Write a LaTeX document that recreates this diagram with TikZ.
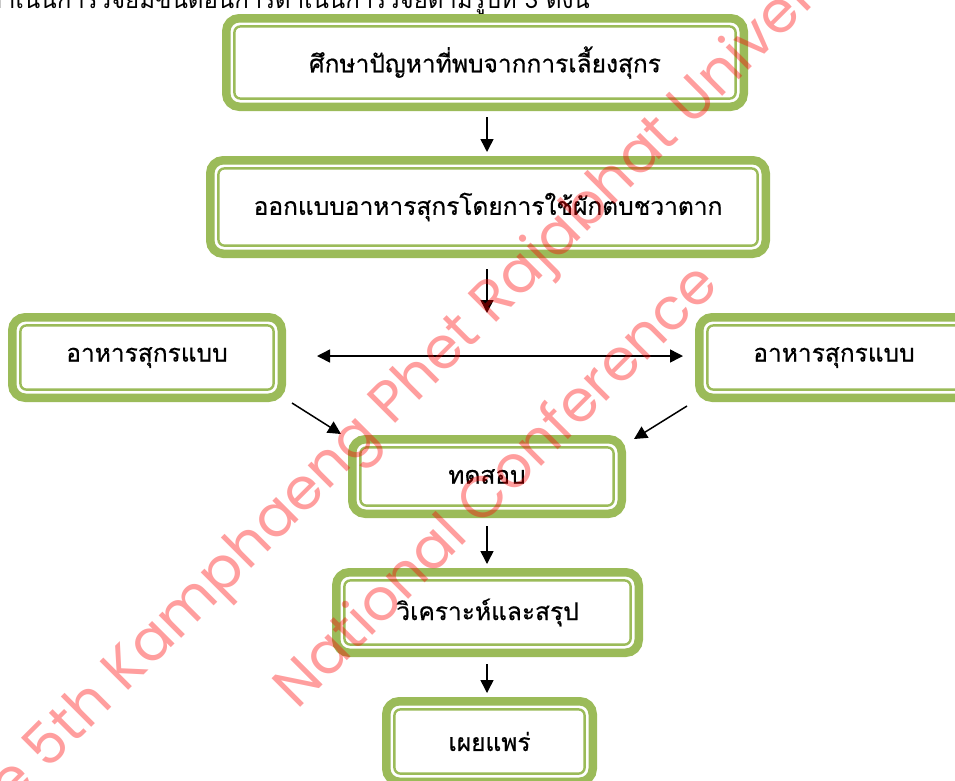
\documentclass[tikz,border=0pt]{standalone}
\usepackage{fontspec}
\newfontfamily\thaifont[Script=Thai,FakeBold=0.6]{Loma}
\newfontfamily\thaiplain[Script=Thai]{Loma}
\newfontfamily\wmfont{Poppins}
\usetikzlibrary{arrows.meta}
\definecolor{boxgreen}{HTML}{9BBB59}
\tikzset{
  gbox/.style={draw=boxgreen, line width=8.5pt, rounded corners=13pt, fill=white,
    inner sep=0pt, font=\thaifont\fontsize{24.5}{28}\selectfont, text=black},
  ginner/.style={draw=boxgreen, line width=2.4pt, rounded corners=6pt},
  arr/.style={-{Triangle[length=13pt,width=13pt]}, line width=1.5pt, black},
  darr/.style={{Triangle[length=13pt,width=13pt]}-{Triangle[length=13pt,width=13pt]}, line width=1.5pt, black},
  wm/.style={font=\wmfont\fontsize{58}{64}\selectfont, text=red, text opacity=0.38, rotate=45, inner sep=0pt}
}
\newcommand\gbox[6]{%
  \node[gbox, minimum width=#4pt-8.5pt, minimum height=#5pt-8.5pt] (#1) at (#2,#3) {#6};
  \draw[ginner] ({#2-#4/2+12.4},{#3-#5/2+12.4}) rectangle ({#2+#4/2-12.4},{#3+#5/2-12.4});
}
\begin{document}
\begin{tikzpicture}[x=1pt,y=-1pt]
\useasboundingbox (0,0) rectangle (955,780);
% clipped heading line
\node[anchor=base east, inner sep=0pt, font=\thaiplain\fontsize{24}{28}\selectfont] (head) at (590,8)
  {ขั้นตอนการดำเนินการวิจัยมีขั้นตอนการดำเนินการวิจัยตามรูปที่ 3 ดังนี้};
% boxes
\gbox{b1}{485}{62.5}{526}{97}{ศึกษาปัญหาที่พบจากการเลี้ยงสุกร}
\gbox{b2}{488}{207}{564}{102}{ออกแบบอาหารสุกรโดยการใช้ผักตบชวาตาก}
\gbox{lb}{147}{357.5}{278}{89}{อาหารสุกรแบบ}
\gbox{rb}{834}{357.5}{278}{89}{อาหารสุกรแบบ}
\gbox{tb}{487}{476.5}{278}{83}{ทดสอบ}
\gbox{ab}{487.5}{612.5}{311}{89}{วิเคราะห์และสรุป}
\gbox{pb}{489.5}{741.5}{215}{89}{เผยแพร่}
% connectors
\coordinate (split) at (487,313);
\draw[arr, shorten <=6pt, shorten >=4pt] (b1.south -| split) -- (b2.north -| split);
\draw[arr, shorten <=11pt] (b2.south -| split) -- (split);
\draw[darr, shorten <=31pt, shorten >=12pt] ([yshift=1.5pt]lb.east) -- ([yshift=1.5pt]rb.west);
\draw[arr] ([shift={(6pt,-1pt)}]lb.south east) -- ([shift={(-7pt,1pt)}]tb.north west);
\draw[arr] ([shift={(-8pt,-4pt)}]rb.south west) -- ([shift={(8pt,-4pt)}]tb.north east);
\draw[arr, shorten <=8pt, shorten >=4pt] (tb.south -| split) -- (ab.north -| split);
\draw[arr, shorten <=7pt, shorten >=4pt] (ab.south -| split) -- (pb.north -| split);
% watermark
\node[wm] (wm1) at (416,383) {The 5th Kamphaeng Phet Rajabhat University};
\node[wm] (wm2) at (494,483) {National Conference};
\end{tikzpicture}
\end{document}
